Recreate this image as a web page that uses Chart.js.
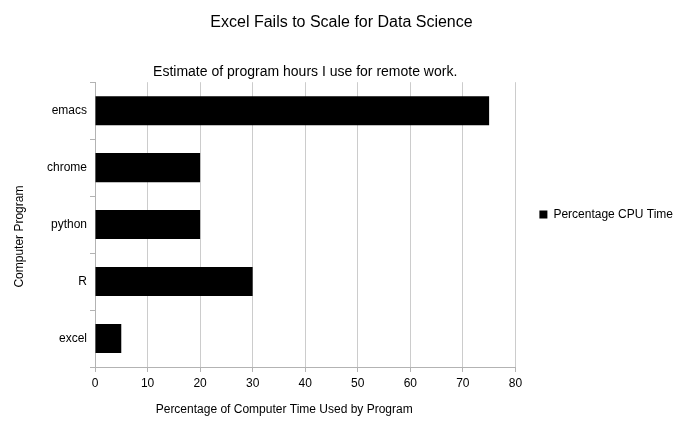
<!DOCTYPE html>
<html>
<head>
<meta charset="utf-8">
<script src="https://cdn.jsdelivr.net/npm/chart.js@4.4.1/dist/chart.umd.min.js"></script>
<style>
  html, body { margin: 0; padding: 0; background: #fff; }
</style>
</head>
<body>
<canvas id="bar-chart" width="683" height="430"></canvas>
<script>
const programs = ["emacs", "chrome", "python", "R", "excel"]
const cpuTime = [75, 20, 20, 30, 5]
const seriesName = "Percentage CPU Time"
const xTitle = "Percentage of Computer Time Used by Program"
const yTitle = "Computer Program"

// subtitle centred over the plot area, plus the two axis titles,
// which sit a bit off-centre in the original
const extraText = {
  id: 'extraText',
  afterDraw(chart) {
    const ctx = chart.ctx
    const area = chart.chartArea
    const mid = (area.left + area.right) / 2
    ctx.save()
    ctx.fillStyle = '#000'
    ctx.textAlign = 'center'
    ctx.textBaseline = 'middle'
    ctx.font = '14px "Liberation Sans", Arial, sans-serif'
    ctx.fillText('Estimate of program hours I use for remote work.', mid, area.top - 10)
    ctx.font = '12px "Liberation Sans", Arial, sans-serif'
    ctx.fillText(xTitle, mid - 21, area.bottom + 43)
    ctx.translate(20, (area.top + area.bottom) / 2 + 12)
    ctx.rotate(-Math.PI / 2)
    ctx.fillText(yTitle, 0, 0)
    ctx.restore()
  }
}

// nudge the legend up a little, like the original
const legendNudge = {
  id: 'legendNudge',
  afterLayout(chart) {
    chart.legend.top -= 10
    chart.legend.bottom -= 10
  }
}

Chart.defaults.font.family = '"Liberation Sans", Arial, sans-serif'
Chart.defaults.color = '#000'

var ctx = document.getElementById("bar-chart").getContext('2d');
var myChart = new Chart(ctx, {
  type: 'bar',
  data: {
    labels: programs,
    datasets: [{
      label: seriesName,
      data: cpuTime,
      backgroundColor: '#000',
      borderColor: '#000',
      borderWidth: 0,
      categoryPercentage: 1,
      barPercentage: 0.51
    }]
  },
  plugins: [extraText, legendNudge],
  options: {
    indexAxis: 'y',
    responsive: false,
    animation: false,
    layout: { padding: { top: 0, right: 0, left: 0, bottom: 0 } },
    plugins: {
      title: {
        display: true,
        text: 'Excel Fails to Scale for Data Science',
        font: { size: 16, weight: 'normal' },
        padding: { top: 13, bottom: 50 }
      },
      legend: {
        position: 'right',
        fullSize: false,
        labels: {
          boxWidth: 8,
          boxHeight: 8,
          padding: 24,
          font: { size: 12 }
        }
      },
      tooltip: { enabled: false }
    },
    scales: {
      x: {
        min: 0,
        max: 80,
        ticks: { stepSize: 10, font: { size: 12 }, padding: 4 },
        grid: { color: '#cccccc', tickLength: 5, tickColor: '#b3b3b3' },
        border: { color: '#b3b3b3' },
        afterFit(scale) { scale.height = 63 }
      },
      y: {
        ticks: { font: { size: 12 }, padding: 3 },
        grid: { drawOnChartArea: false, tickLength: 5, color: '#b3b3b3' },
        border: { color: '#b3b3b3' },
        afterFit(scale) { scale.width = 95 }
      }
    }
  }
});
</script>
</body>
</html>
